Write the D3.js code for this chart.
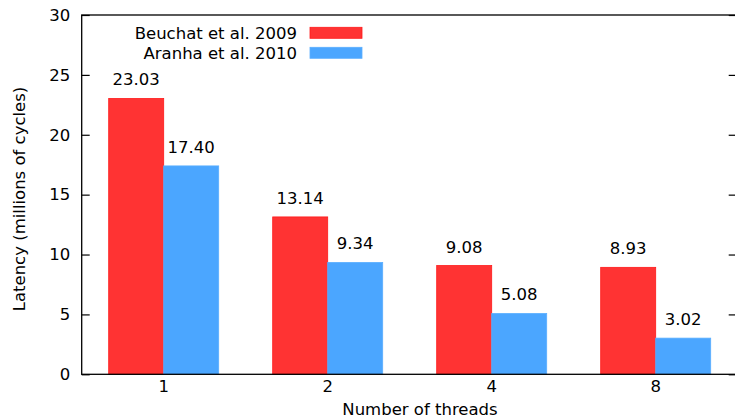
<!DOCTYPE html>
<html>
<head>
<meta charset="utf-8">
<script src="https://cdn.jsdelivr.net/npm/d3@7"></script>
<style>
  html, body { margin: 0; padding: 0; background: #fff; }
  svg { display: block; font-family: "DejaVu Sans", sans-serif; }
</style>
</head>
<body>
<svg id="chart" width="735" height="418"></svg>
<script>
// Latency per thread count for two implementations
const threads = ["1", "2", "4", "8"];
const seriesNames = ["Beuchat et al. 2009", "Aranha et al. 2010"];
const beuchat = [23.03, 13.14, 9.08, 8.93];
const aranha = [17.40, 9.34, 5.08, 3.02];
const yTicks = [0, 5, 10, 15, 20, 25, 30];
const seriesFill = ["#ff3333", "#4ba6ff"];
const seriesStroke = ["#ff1a1a", "#5aaeff"];

const values = [beuchat, aranha];
const W = 735, H = 418;
const plotLeft = 81.7, plotRight = 737.7, plotTop = 15, plotBottom = 374.3;
const fontSize = 16.5;

const svg = d3.select("#chart").attr("viewBox", `0 0 ${W} ${H}`);
svg.append("rect").attr("width", W).attr("height", H).attr("fill", "#fff");

const x = d3.scaleBand().domain(threads).range([plotLeft, plotRight]).padding(0);
const groupWidth = 110;
const xSub = d3.scaleBand().domain(seriesNames).range([0, groupWidth]);
const y = d3.scaleLinear().domain([0, 30]).range([plotBottom, plotTop]);

// bars and value labels
seriesNames.forEach((name, si) => {
  const g = svg.append("g");
  const data = threads.map((t, i) => ({ t, v: values[si][i] }));
  const gx = d => x(d.t) + (x.bandwidth() - groupWidth) / 2 + xSub(name);
  g.selectAll("rect").data(data).join("rect")
    .attr("x", gx)
    .attr("y", d => y(d.v))
    .attr("width", xSub.bandwidth())
    .attr("height", d => y(0) - y(d.v))
    .attr("fill", seriesFill[si])
    .attr("stroke", seriesStroke[si])
    .attr("stroke-width", 0.8);
  g.selectAll("text").data(data).join("text")
    .attr("x", d => gx(d) + xSub.bandwidth() / 2)
    .attr("y", d => y(d.v) - 13)
    .attr("text-anchor", "middle")
    .attr("font-size", fontSize)
    .attr("fill", "#000")
    .text(d => d.v.toFixed(2));
});

// frame
svg.append("rect")
  .attr("x", plotLeft).attr("y", plotTop)
  .attr("width", plotRight - plotLeft).attr("height", plotBottom - plotTop)
  .attr("fill", "none").attr("stroke", "#000").attr("stroke-width", 1.3);

// left axis with inward ticks
const yAxis = svg.append("g").attr("transform", `translate(${plotLeft},0)`)
  .call(d3.axisLeft(y).tickValues(yTicks).tickSizeInner(-8).tickSizeOuter(0).tickPadding(11.5));
yAxis.select(".domain").remove();
yAxis.selectAll("text").attr("font-size", fontSize).attr("font-family", "DejaVu Sans").attr("fill", "#000");
yAxis.selectAll("line").attr("stroke", "#000").attr("stroke-width", 1.2);

// mirrored ticks on the right
const yAxisR = svg.append("g").attr("transform", `translate(${plotRight},0)`)
  .call(d3.axisRight(y).tickValues(yTicks).tickSizeInner(-9).tickSizeOuter(0).tickFormat(""));
yAxisR.select(".domain").remove();
yAxisR.selectAll("line").attr("stroke", "#000").attr("stroke-width", 1.2);

// bottom axis labels
const xAxis = svg.append("g").attr("transform", `translate(0,${plotBottom})`)
  .call(d3.axisBottom(x).tickSizeInner(0).tickSizeOuter(0).tickPadding(6));
xAxis.select(".domain").remove();
xAxis.selectAll("text").attr("font-size", fontSize).attr("font-family", "DejaVu Sans").attr("fill", "#000");

// axis titles
svg.append("text")
  .attr("x", 420).attr("y", 415)
  .attr("text-anchor", "middle").attr("font-size", fontSize)
  .text("Number of threads");
svg.append("text")
  .attr("transform", "translate(25,199) rotate(-90)")
  .attr("text-anchor", "middle").attr("font-size", fontSize)
  .text("Latency (millions of cycles)");

// legend
const legend = svg.append("g");
seriesNames.forEach((name, i) => {
  const row = legend.append("g").attr("transform", `translate(0,${i * 20})`);
  row.append("text")
    .attr("x", 297).attr("y", 39)
    .attr("text-anchor", "end").attr("font-size", fontSize)
    .text(name);
  row.append("rect")
    .attr("x", 310).attr("y", 27.3)
    .attr("width", 52).attr("height", 11)
    .attr("fill", seriesFill[i])
    .attr("stroke", seriesStroke[i]).attr("stroke-width", 0.8);
});
</script>
</body>
</html>
